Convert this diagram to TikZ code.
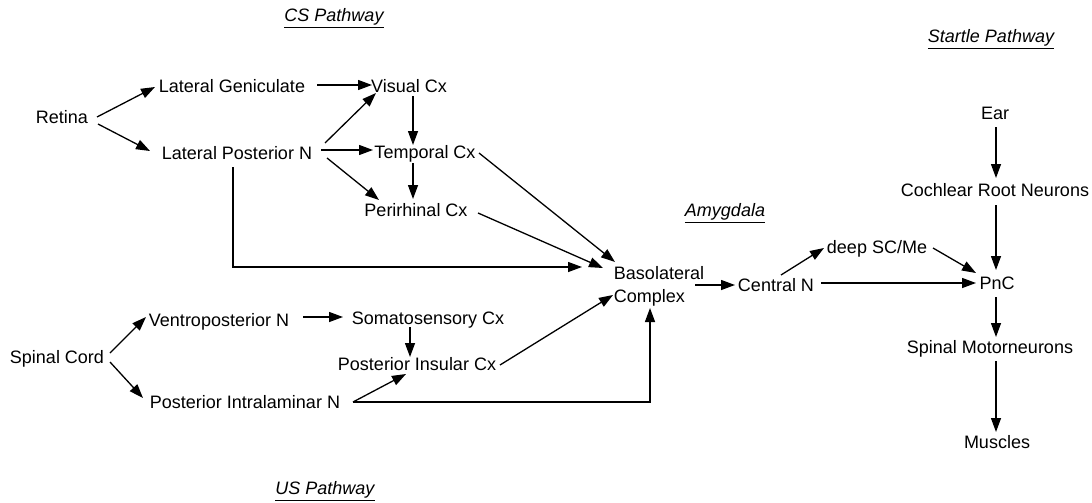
\documentclass[tikz,border=0pt]{standalone}
\usepackage{fontspec}
\setmainfont{Liberation Sans}
\usetikzlibrary{arrows.meta,calc}
\begin{document}
\begin{tikzpicture}[x=1pt,y=-1pt,
  lbl/.style={font=\fontsize{18}{23}\selectfont, inner sep=0pt, text height=17pt, text depth=4pt},
  ttl/.style={font=\fontsize{18}{23}\selectfont\itshape, inner sep=0pt},
  arr/.style={line width=1.3pt, -{Triangle[length=14pt,width=10pt]}},
  ln/.style={line width=1.3pt}]
\useasboundingbox (0,0) rectangle (1092,503);

% titles
\node[ttl] (cs) at (334,18) {\underline{CS Pathway}};
\node[ttl] (us) at (325,491) {\underline{US Pathway}};
\node[ttl] (st) at (991,39) {\underline{Startle Pathway}};
\node[ttl] (am) at (725,213) {\underline{Amygdala}};

% CS nodes
\node[lbl] (retina) at (62,117) {Retina};
\node[lbl] (lg) at (232,86) {Lateral Geniculate};
\node[lbl] (vis) at (409,86) {Visual Cx};
\node[lbl] (lp) at (237,153) {Lateral Posterior N};
\node[lbl] (temp) at (425,152) {Temporal Cx};
\node[lbl] (peri) at (416,210) {Perirhinal Cx};

% amygdala / startle
\node[font=\fontsize{18}{23}\selectfont, inner sep=0pt, align=left] (bl) at (659,286) {Basolateral\\Complex};
\node[lbl] (central) at (776,285) {Central N};
\node[lbl] (deep) at (877,247) {deep SC/Me};
\node[lbl] (ear) at (995,113) {Ear};
\node[lbl] (coch) at (995,190) {Cochlear Root Neurons};
\node[lbl] (pnc) at (997,283) {PnC};
\node[lbl] (sm) at (990,347) {Spinal Motorneurons};
\node[lbl] (mus) at (997,442) {Muscles};

% US nodes
\node[lbl] (spinal) at (57,357) {Spinal Cord};
\node[lbl] (vp) at (219,320) {Ventroposterior N};
\node[lbl] (pin) at (245,402) {Posterior Intralaminar N};
\node[lbl] (soma) at (428,318) {Somatosensory Cx};
\node[lbl] (pins) at (417,364) {Posterior Insular Cx};

% CS connectors
\draw[arr] ($(retina)+(35,0)$) -- ($(lg)+(-77,1)$);
\draw[arr] ($(retina)+(36,7)$) -- ($(lp)+(-87,-2)$);
\draw[arr] ($(lg)+(85,-1)$) -- ($(vis)+(-37,-1)$);
\draw[arr] ($(lp)+(88,-10)$) -- ($(vis)+(-33,7)$);
\draw[arr] ($(lp)+(84,-3)$) -- ($(temp)+(-52,-2)$);
\draw[arr] ($(lp)+(90,5)$) -- ($(peri)+(-37,-10)$);
\draw[arr] ($(vis)+(4,10)$) -- ($(temp)+(-12,-7)$);
\draw[arr] ($(temp)+(-12,11)$) -- ($(peri)+(-3,-11)$);
\draw[arr] ($(lp)+(-4,14)$) |- ($(bl)+(-77,-19)$);
\draw[arr] ($(temp)+(54,1)$) -- ($(bl)+(-44,-24)$);
\draw[arr] ($(peri)+(62,3)$) -- ($(bl)+(-56,-18)$);

% US connectors
\draw[arr] ($(spinal)+(53,-4)$) -- ($(vp)+(-73,-3)$);
\draw[arr] ($(spinal)+(53,5)$) -- ($(pin)+(-102,-4)$);
\draw[arr] ($(vp)+(84,-3)$) -- ($(soma)+(-85,-1)$);
\draw[arr] ($(soma)+(-18,9)$) -- ($(pins)+(-7,-7)$);
\draw[arr] ($(pin)+(108,0)$) -- ($(pins)+(-11,10)$);
\draw[arr] ($(pin)+(108,0)$) -| ($(bl)+(-9,22)$);
\draw[arr] ($(pins)+(83,1)$) -- ($(bl)+(-46,9)$);

% amygdala / startle connectors
\draw[arr] ($(bl)+(36,-1)$) -- ($(central)+(-41,0)$);
\draw[arr] ($(central)+(5,-10)$) -- ($(deep)+(-53,1)$);
\draw[arr] ($(central)+(45,-2)$) -- ($(pnc)+(-21,0)$);
\draw[arr] ($(deep)+(56,1)$) -- ($(pnc)+(-21,-10)$);
\draw[arr] ($(ear)+(1,14)$) -- ($(coch)+(1,-12)$);
\draw[arr] ($(coch)+(1,15)$) -- ($(pnc)+(-1,-13)$);
\draw[arr] ($(pnc)+(-1,14)$) -- ($(sm)+(6,-10)$);
\draw[arr] ($(sm)+(6,14)$) -- ($(mus)+(-1,-10)$);
\end{tikzpicture}
\end{document}
